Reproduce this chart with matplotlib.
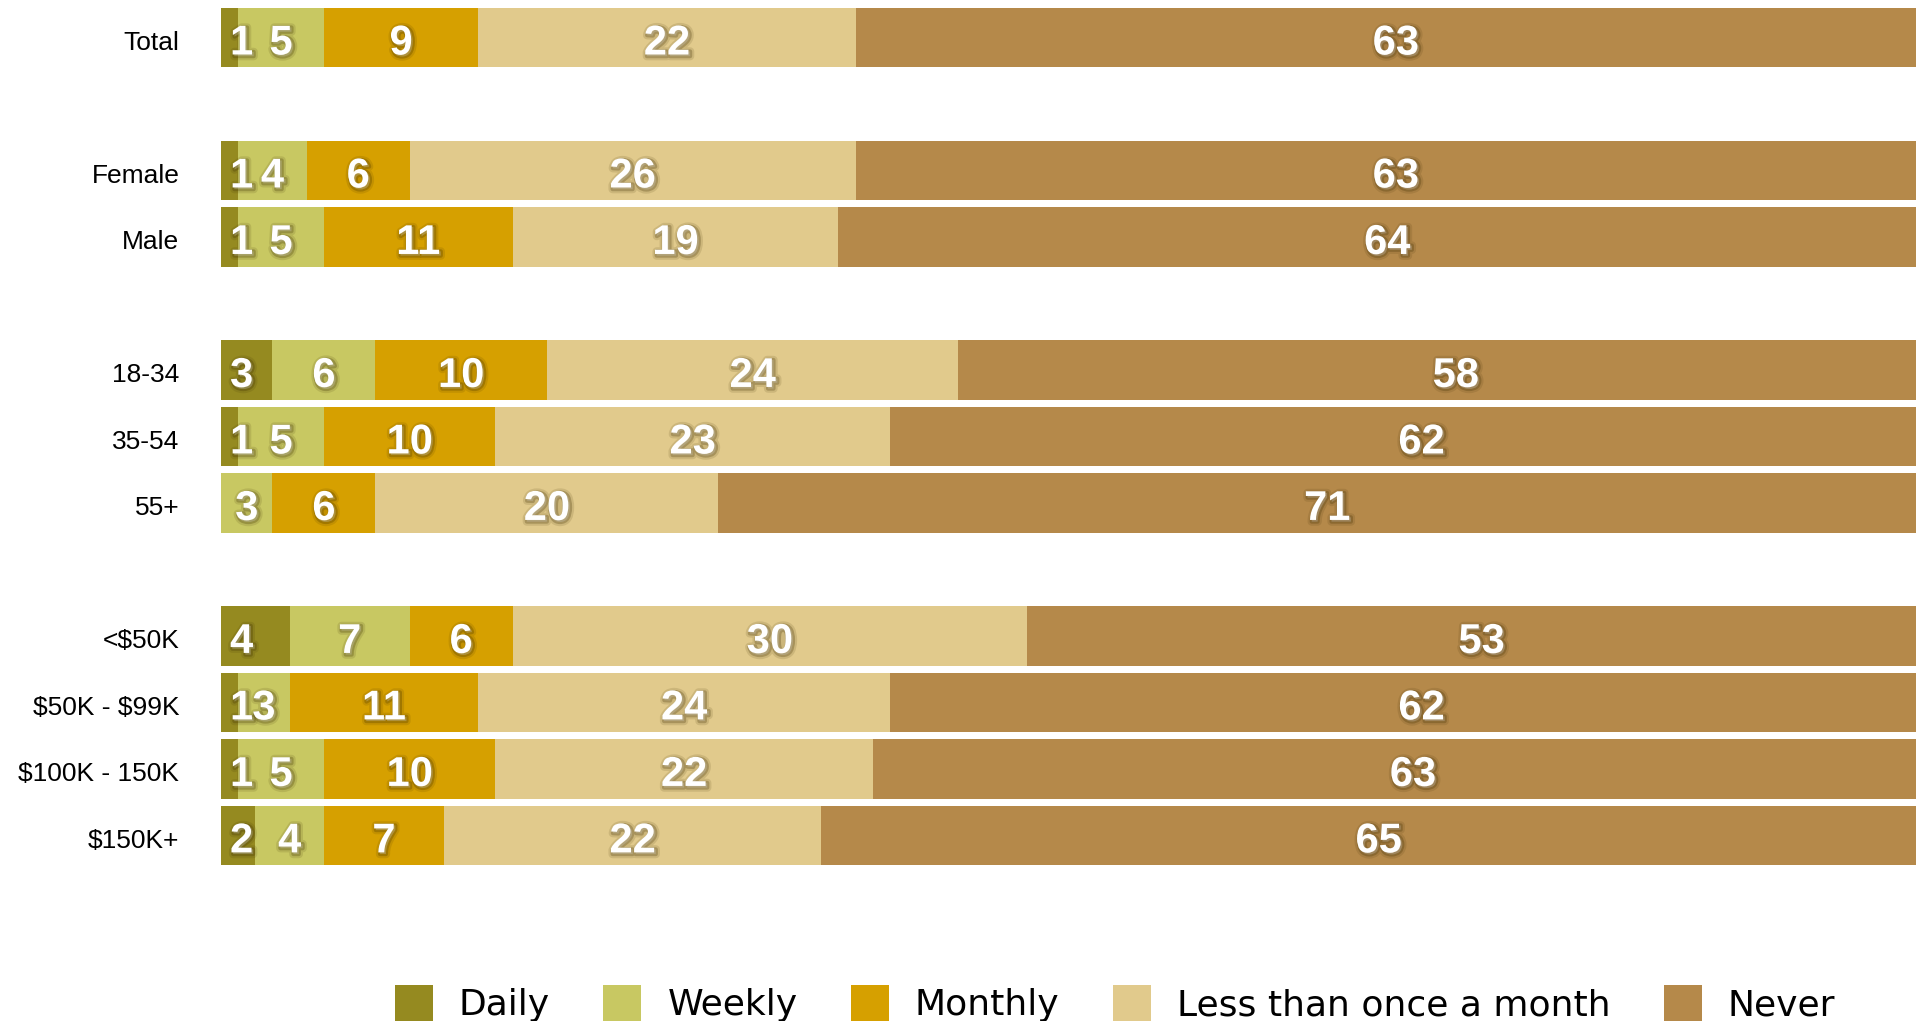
import matplotlib
matplotlib.use("Agg")
import matplotlib.pyplot as plt
import matplotlib.patheffects as pe
from matplotlib.patches import Patch
from matplotlib.transforms import ScaledTranslation

plt.rcParams["text.parse_math"] = False

# Survey rows, split into groups (Total / gender / age / income)
groups = [
    ["Total"],
    ["Female", "Male"],
    ["18-34", "35-54", "55+"],
    ["<$50K", "$50K - $99K", "$100K - 150K", "$150K+"],
]

series_names = ["Daily", "Weekly", "Monthly", "Less than once a month", "Never"]

daily   = [1, 1, 1, 3, 1, 0, 4, 1, 1, 2]
weekly  = [5, 4, 5, 6, 5, 3, 7, 3, 5, 4]
monthly = [9, 6, 11, 10, 10, 6, 6, 11, 10, 7]
less    = [22, 26, 19, 24, 23, 20, 30, 24, 22, 22]
never   = [63, 63, 64, 58, 62, 71, 53, 62, 63, 65]

colors = ["#958A20", "#C8C862", "#D6A000", "#E1CA8C", "#B5894A"]

# y positions: consecutive within a group, one empty slot between groups
rows, ypos = [], []
y = 0
for g in groups:
    for name in g:
        rows.append(name)
        ypos.append(y)
        y += 1
    y += 1

W, H = 1916, 1021
fig = plt.figure(figsize=(W / 100, H / 100), dpi=100)
ax = fig.add_axes([221 / W, 1 - 870 / H, 1 - 221 / W, 870 / H])

label_font = "Liberation Sans"
shadow = [
    pe.Stroke(offset=(1.2, -1.2), linewidth=6, foreground="#3a2a00", alpha=0.12),
    pe.Stroke(offset=(1.2, -1.2), linewidth=3, foreground="#3a2a00", alpha=0.25),
    pe.Normal(),
]

series = [daily, weekly, monthly, less, never]
lefts = [0] * len(rows)
handles = []
for k, (vals, col) in enumerate(zip(series, colors)):
    ax.barh(ypos, vals, left=lefts, height=0.89, color=col, linewidth=0)
    handles.append(Patch(facecolor=col, edgecolor="none", label=series_names[k]))
    for i, v in enumerate(vals):
        if v > 0:
            xc = 1.2 if k == 0 else lefts[i] + v / 2
            ax.text(xc, ypos[i] + 0.09, str(v), ha="center", va="center",
                    color="white", fontsize=30, fontweight="bold",
                    family=label_font, path_effects=shadow)
    lefts = [a + b for a, b in zip(lefts, vals)]

ax.set_xlim(0, (W - 221) / 17.15)
ax.set_ylim(12.52, -0.564)
ax.set_yticks(ypos)
ax.set_yticklabels(rows, family=label_font, fontsize=19)
ax.tick_params(axis="y", length=0, pad=30)
nudge = ScaledTranslation(0, -0.03, fig.dpi_scale_trans)
for lbl in ax.get_yticklabels():
    lbl.set_transform(lbl.get_transform() + nudge)
ax.set_xticks([])
for s in ax.spines.values():
    s.set_visible(False)

fig.legend(handles=handles, loc="upper left",
           bbox_to_anchor=(395 / W, 1 - 985 / H), ncol=5, frameon=False,
           borderpad=0, borderaxespad=0, handlelength=1.05, handleheight=1.15,
           handletextpad=0.72, columnspacing=1.48,
           prop={"family": "DejaVu Sans", "size": 26})

fig.savefig("out.png", dpi=100)
